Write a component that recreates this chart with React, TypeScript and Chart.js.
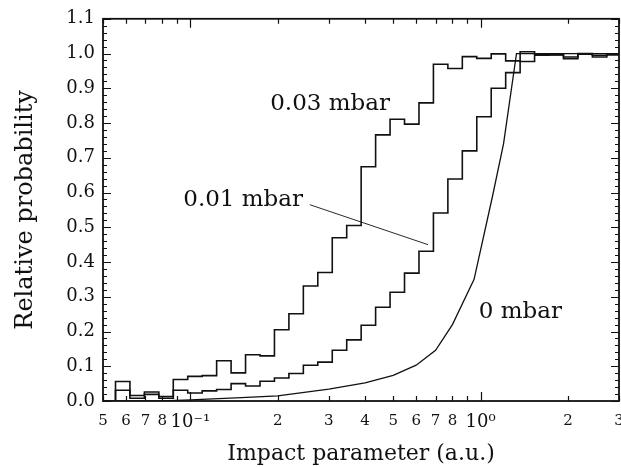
import { useEffect, useRef } from 'react';
import { Chart, registerables } from 'chart.js';

Chart.register(...registerables);

// Histogram bin edges (impact parameter, a.u.), log-spaced
const binEdges = [
  0.05521, 0.06191, 0.06944, 0.07787, 0.08733, 0.09795, 0.10985, 0.12319, 0.13816,
  0.15495, 0.17378, 0.19489, 0.21857, 0.24512, 0.2749, 0.30832, 0.34578, 0.38779,
  0.43491, 0.48775, 0.54702, 0.61348, 0.68803, 0.77161, 0.86536, 0.97051, 1.08843,
  1.22068, 1.369, 1.53533, 1.72187, 1.93107, 2.1657, 2.42883, 2.72393, 3.0,
];

// Relative probability per bin, 0.03 mbar
const prob003 = [
  0.056, 0.016, 0.026, 0.013, 0.062, 0.071, 0.073, 0.116, 0.081, 0.133, 0.13, 0.205,
  0.251, 0.331, 0.37, 0.47, 0.505, 0.674, 0.766, 0.811, 0.797, 0.858, 0.969, 0.957,
  0.991, 0.986, 0.999, 0.979, 0.977, 0.995, 0.996, 0.99, 1.0, 0.995, 0.997,
];

// Relative probability per bin, 0.01 mbar
const prob001 = [
  0.031, 0.008, 0.019, 0.008, 0.031, 0.023, 0.029, 0.033, 0.05, 0.043, 0.057, 0.066,
  0.079, 0.103, 0.112, 0.146, 0.176, 0.218, 0.27, 0.313, 0.368, 0.431, 0.541, 0.639,
  0.72, 0.818, 0.9, 0.945, 1.005, 0.998, 0.997, 0.985, 0.998, 0.99, 0.997,
];

// 0 mbar smooth curve
const curve0X = [0.05, 0.08, 0.1, 0.15, 0.2, 0.3, 0.4, 0.5, 0.6, 0.7, 0.8, 0.95, 1.1, 1.2, 1.33, 3.0];
const curve0Y = [0.0, 0.0, 0.003, 0.01, 0.015, 0.034, 0.052, 0.074, 0.103, 0.146, 0.22, 0.35, 0.59, 0.74, 1.0, 1.0];

// Axes
const yTickValues = [0, 0.1, 0.2, 0.3, 0.4, 0.5, 0.6, 0.7, 0.8, 0.9, 1.0, 1.1];
const yTickLabels = ['0.0', '0.1', '0.2', '0.3', '0.4', '0.5', '0.6', '0.7', '0.8', '0.9', '1.0', '1.1'];
const yMinorValues = [
  0, 0.02, 0.04, 0.06, 0.08, 0.1, 0.12, 0.14, 0.16, 0.18, 0.2, 0.22, 0.24, 0.26, 0.28, 0.3,
  0.32, 0.34, 0.36, 0.38, 0.4, 0.42, 0.44, 0.46, 0.48, 0.5, 0.52, 0.54, 0.56, 0.58, 0.6,
  0.62, 0.64, 0.66, 0.68, 0.7, 0.72, 0.74, 0.76, 0.78, 0.8, 0.82, 0.84, 0.86, 0.88, 0.9,
  0.92, 0.94, 0.96, 0.98, 1.0, 1.02, 1.04, 1.06, 1.08, 1.1,
];
const yMajorValues = yTickValues;
const xTickValues = [0.05, 0.06, 0.07, 0.08, 0.1, 0.2, 0.3, 0.4, 0.5, 0.6, 0.7, 0.8, 1, 2, 3];
const xTickLabels = ['5', '6', '7', '8', '10\u207B\u00B9', '2', '3', '4', '5', '6', '7', '8', '10\u2070', '2', '3'];
const xMarkValues = [0.05, 0.06, 0.07, 0.08, 0.09, 0.1, 0.2, 0.3, 0.4, 0.5, 0.6, 0.7, 0.8, 0.9, 1, 2, 3];
const xMajorValues = [0.1, 1];

// Annotations (data coordinates)
const labelTexts = ['0.03 mbar', '0.01 mbar', '0 mbar'];
const labelX = [0.303, 0.152, 1.372];
const labelY = [0.855, 0.577, 0.255];
const leaderX = [0.258, 0.659];
const leaderY = [0.565, 0.45];

const FONT = '"DejaVu Serif", serif';
const INK = '#111111';

function histPoints(edges: number[], vals: number[]) {
  const pts: { x: number; y: number }[] = [{ x: edges[0], y: 0 }];
  vals.forEach((v, i) => {
    pts.push({ x: edges[i], y: v });
    pts.push({ x: edges[i + 1], y: v });
  });
  return pts;
}

const framePlugin = {
  id: 'frameAndNotes',
  afterDatasetsDraw(chart: any) {
    const { ctx, chartArea: a, scales } = chart;
    const x = scales.x;
    const y = scales.y;
    ctx.save();
    ctx.strokeStyle = INK;
    // ticks
    ctx.lineWidth = 1.2;
    ctx.beginPath();
    yMinorValues.forEach((v) => {
      const py = Math.round(y.getPixelForValue(v)) + 0.5;
      const major = yMajorValues.some((m) => Math.abs(m - v) < 1e-6);
      const len = major ? 8 : 4;
      ctx.moveTo(a.left, py);
      ctx.lineTo(a.left + len, py);
      ctx.moveTo(a.right, py);
      ctx.lineTo(a.right - len, py);
    });
    xMarkValues.forEach((v) => {
      const px = Math.round(x.getPixelForValue(v)) + 0.5;
      const major = xMajorValues.some((m) => Math.abs(m - v) < 1e-9);
      const len = major ? 9 : 5;
      ctx.moveTo(px, a.bottom);
      ctx.lineTo(px, a.bottom - len);
      ctx.moveTo(px, a.top);
      ctx.lineTo(px, a.top + len);
    });
    ctx.stroke();
    // frame
    ctx.lineWidth = 1.8;
    ctx.strokeRect(a.left, a.top, a.right - a.left, a.bottom - a.top);
    // leader line
    ctx.lineWidth = 0.9;
    ctx.beginPath();
    ctx.moveTo(x.getPixelForValue(leaderX[0]), y.getPixelForValue(leaderY[0]));
    ctx.lineTo(x.getPixelForValue(leaderX[1]), y.getPixelForValue(leaderY[1]));
    ctx.stroke();
    // labels
    ctx.fillStyle = INK;
    ctx.font = `23px ${FONT}`;
    ctx.textAlign = 'center';
    ctx.textBaseline = 'middle';
    labelTexts.forEach((t, i) => {
      ctx.fillText(t, x.getPixelForValue(labelX[i]), y.getPixelForValue(labelY[i]));
    });
    ctx.restore();
  },
};

export default function App() {
  const ref = useRef<HTMLCanvasElement | null>(null);

  useEffect(() => {
    if (!ref.current) return;
    const chart = new Chart(ref.current, {
      type: 'line',
      data: {
        datasets: [
          {
            label: '0.03 mbar',
            data: histPoints(binEdges, prob003),
            borderColor: INK,
            borderWidth: 1.6,
            pointRadius: 0,
            tension: 0,
            fill: false,
          },
          {
            label: '0.01 mbar',
            data: histPoints(binEdges, prob001),
            borderColor: INK,
            borderWidth: 1.6,
            pointRadius: 0,
            tension: 0,
            fill: false,
          },
          {
            label: '0 mbar',
            data: curve0X.map((v, i) => ({ x: v, y: curve0Y[i] })),
            borderColor: INK,
            borderWidth: 1.3,
            pointRadius: 0,
            tension: 0,
            fill: false,
          },
        ],
      },
      options: {
        animation: false,
        responsive: false,
        devicePixelRatio: 1,
        layout: { padding: { left: 0, right: 21, top: 18, bottom: 0 } },
        plugins: { legend: { display: false }, tooltip: { enabled: false } },
        scales: {
          x: {
            type: 'logarithmic',
            position: 'bottom',
            min: 0.05,
            max: 3,
            grid: { display: false, drawTicks: false },
            border: { display: false },
            afterBuildTicks: (s: any) => {
              s.ticks = xTickValues.map((v) => ({ value: v }));
            },
            afterFit: (s: any) => {
              s.height = 66;
            },
            ticks: {
              autoSkip: false,
              maxRotation: 0,
              minRotation: 0,
              padding: 11,
              color: INK,
              font: (c: any) => ({
                family: FONT,
                size: xTickLabels[c.index] && xTickLabels[c.index].startsWith('10') ? 18 : 15,
              }),
              callback: (_v: any, i: number) => xTickLabels[i],
            },
            title: {
              display: true,
              text: 'Impact parameter (a.u.)',
              color: INK,
              font: { family: FONT, size: 22 },
              padding: { top: 0, bottom: 0 },
            },
          },
          y: {
            type: 'linear',
            min: 0,
            max: 1.1,
            grid: { display: false, drawTicks: false },
            border: { display: false },
            afterBuildTicks: (s: any) => {
              s.ticks = yTickValues.map((v) => ({ value: v }));
            },
            afterFit: (s: any) => {
              s.width = 103;
            },
            ticks: {
              padding: 8,
              color: INK,
              font: { family: FONT, size: 18 },
              callback: (_v: any, i: number) => yTickLabels[i],
            },
            title: {
              display: true,
              text: 'Relative probability',
              color: INK,
              font: { family: FONT, size: 24 },
              padding: { top: 11, bottom: 0 },
            },
          },
        },
      },
      plugins: [framePlugin],
    } as any);
    return () => chart.destroy();
  }, []);

  return (
    <div
      style={{
        position: 'fixed',
        left: 0,
        top: 0,
        width: 621,
        height: 467,
        overflow: 'hidden',
        background: '#fff',
      }}
    >
      <canvas ref={ref} width={640} height={467} style={{ display: 'block', width: 640, height: 467 }} />
    </div>
  );
}
